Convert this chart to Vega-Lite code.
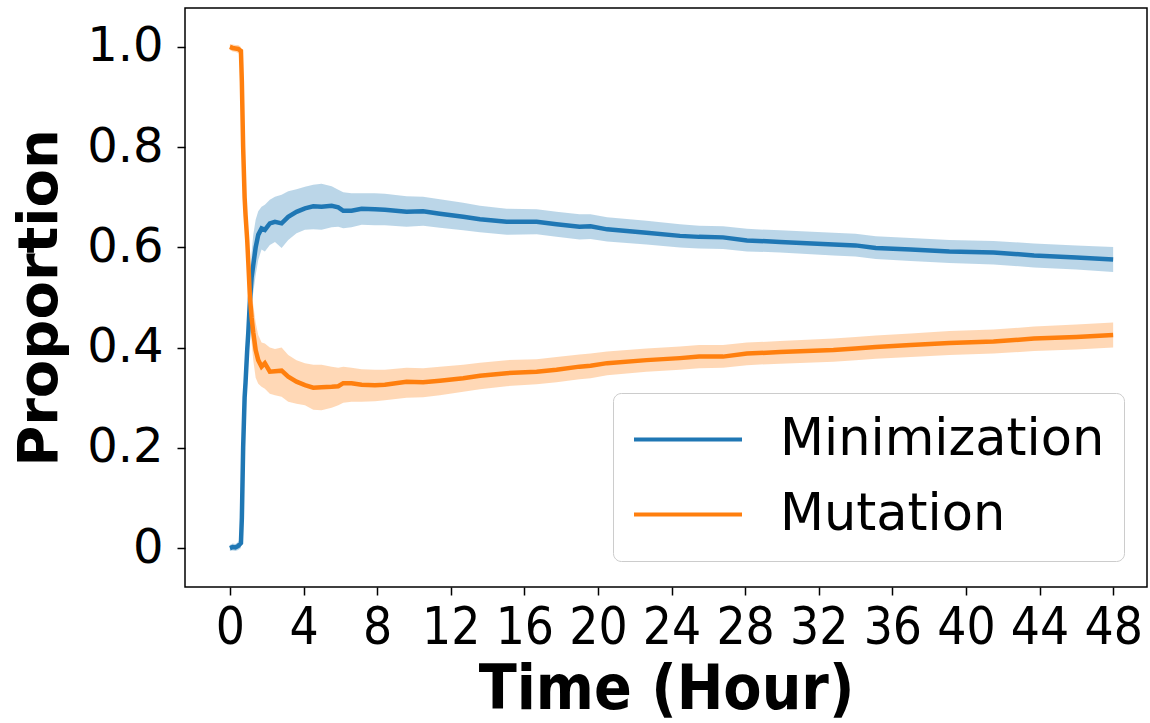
{
  "$schema": "https://vega.github.io/schema/vega-lite/v6.json",
  "width": 962,
  "height": 579,
  "autosize": {"type": "none"},
  "padding": {"left": 185, "top": 8, "right": 3, "bottom": 136},
  "background": "white",
  "config": {
    "view": {"stroke": "black", "strokeWidth": 1.5},
    "axis": {"grid": false, "domain": false, "tickColor": "black", "tickWidth": 1.5, "tickSize": 8, "labelColor": "black", "titleColor": "black"}
  },
  "data": {"values": [
    {"s":"Minimization","t":0,"v":0.000,"lo":-0.006,"hi":0.006},
    {"s":"Minimization","t":0.15,"v":0.002,"lo":-0.005,"hi":0.009},
    {"s":"Minimization","t":0.3,"v":0.001,"lo":-0.006,"hi":0.008},
    {"s":"Minimization","t":0.45,"v":0.004,"lo":-0.004,"hi":0.012},
    {"s":"Minimization","t":0.6,"v":0.010,"lo":0.0,"hi":0.02},
    {"s":"Minimization","t":0.65,"v":0.06,"lo":0.04,"hi":0.08},
    {"s":"Minimization","t":0.72,"v":0.20,"lo":0.17,"hi":0.23},
    {"s":"Minimization","t":0.8,"v":0.30,"lo":0.27,"hi":0.33},
    {"s":"Minimization","t":0.85,"v":0.33,"lo":0.30,"hi":0.36},
    {"s":"Minimization","t":0.94,"v":0.395,"lo":0.36,"hi":0.43},
    {"s":"Minimization","t":1.0,"v":0.43,"lo":0.39,"hi":0.47},
    {"s":"Minimization","t":1.09,"v":0.495,"lo":0.45,"hi":0.54},
    {"s":"Minimization","t":1.18,"v":0.54,"lo":0.49,"hi":0.59},
    {"s":"Minimization","t":1.27,"v":0.565,"lo":0.51,"hi":0.625},
    {"s":"Minimization","t":1.4,"v":0.600,"lo":0.545,"hi":0.655},
    {"s":"Minimization","t":1.54,"v":0.625,"lo":0.575,"hi":0.672},
    {"s":"Minimization","t":1.72,"v":0.638,"lo":0.596,"hi":0.681},
    {"s":"Minimization","t":1.9,"v":0.635,"lo":0.592,"hi":0.685},
    {"s":"Minimization","t":2.17,"v":0.648,"lo":0.605,"hi":0.695},
    {"s":"Minimization","t":2.45,"v":0.651,"lo":0.611,"hi":0.701},
    {"s":"Minimization","t":2.81,"v":0.648,"lo":0.599,"hi":0.705},
    {"s":"Minimization","t":3.17,"v":0.661,"lo":0.615,"hi":0.712},
    {"s":"Minimization","t":3.62,"v":0.671,"lo":0.628,"hi":0.716},
    {"s":"Minimization","t":4.08,"v":0.678,"lo":0.635,"hi":0.721},
    {"s":"Minimization","t":4.53,"v":0.682,"lo":0.636,"hi":0.725},
    {"s":"Minimization","t":4.98,"v":0.681,"lo":0.635,"hi":0.727},
    {"s":"Minimization","t":5.53,"v":0.683,"lo":0.640,"hi":0.722},
    {"s":"Minimization","t":5.89,"v":0.680,"lo":0.641,"hi":0.715},
    {"s":"Minimization","t":6.16,"v":0.673,"lo":0.638,"hi":0.710},
    {"s":"Minimization","t":6.61,"v":0.673,"lo":0.640,"hi":0.708},
    {"s":"Minimization","t":7.16,"v":0.677,"lo":0.645,"hi":0.708},
    {"s":"Minimization","t":7.88,"v":0.676,"lo":0.644,"hi":0.708},
    {"s":"Minimization","t":8.42,"v":0.675,"lo":0.644,"hi":0.707},
    {"s":"Minimization","t":9.6,"v":0.671,"lo":0.641,"hi":0.702},
    {"s":"Minimization","t":10.5,"v":0.672,"lo":0.643,"hi":0.701},
    {"s":"Minimization","t":11.41,"v":0.667,"lo":0.639,"hi":0.696},
    {"s":"Minimization","t":12.68,"v":0.661,"lo":0.634,"hi":0.689},
    {"s":"Minimization","t":13.59,"v":0.656,"lo":0.630,"hi":0.683},
    {"s":"Minimization","t":15.04,"v":0.651,"lo":0.625,"hi":0.677},
    {"s":"Minimization","t":16.67,"v":0.651,"lo":0.626,"hi":0.676},
    {"s":"Minimization","t":17.75,"v":0.646,"lo":0.621,"hi":0.671},
    {"s":"Minimization","t":19.0,"v":0.641,"lo":0.616,"hi":0.666},
    {"s":"Minimization","t":19.6,"v":0.642,"lo":0.617,"hi":0.666},
    {"s":"Minimization","t":20.5,"v":0.636,"lo":0.612,"hi":0.660},
    {"s":"Minimization","t":22.64,"v":0.629,"lo":0.606,"hi":0.653},
    {"s":"Minimization","t":24.46,"v":0.623,"lo":0.600,"hi":0.646},
    {"s":"Minimization","t":25.5,"v":0.621,"lo":0.598,"hi":0.643},
    {"s":"Minimization","t":26.8,"v":0.620,"lo":0.597,"hi":0.642},
    {"s":"Minimization","t":28.1,"v":0.614,"lo":0.592,"hi":0.637},
    {"s":"Minimization","t":29.9,"v":0.611,"lo":0.590,"hi":0.634},
    {"s":"Minimization","t":32.8,"v":0.606,"lo":0.584,"hi":0.629},
    {"s":"Minimization","t":34.0,"v":0.604,"lo":0.582,"hi":0.627},
    {"s":"Minimization","t":35.1,"v":0.599,"lo":0.577,"hi":0.622},
    {"s":"Minimization","t":37.0,"v":0.596,"lo":0.573,"hi":0.619},
    {"s":"Minimization","t":39.1,"v":0.592,"lo":0.569,"hi":0.615},
    {"s":"Minimization","t":41.5,"v":0.590,"lo":0.566,"hi":0.613},
    {"s":"Minimization","t":43.7,"v":0.584,"lo":0.560,"hi":0.608},
    {"s":"Minimization","t":46.0,"v":0.580,"lo":0.556,"hi":0.604},
    {"s":"Minimization","t":48.0,"v":0.576,"lo":0.551,"hi":0.601},
    {"s":"Mutation","t":0,"v":1.000,"lo":0.994,"hi":1.006},
    {"s":"Mutation","t":0.15,"v":0.998,"lo":0.991,"hi":1.005},
    {"s":"Mutation","t":0.3,"v":0.997,"lo":0.990,"hi":1.004},
    {"s":"Mutation","t":0.45,"v":0.996,"lo":0.988,"hi":1.004},
    {"s":"Mutation","t":0.6,"v":0.992,"lo":0.982,"hi":1.0},
    {"s":"Mutation","t":0.65,"v":0.93,"lo":0.91,"hi":0.95},
    {"s":"Mutation","t":0.72,"v":0.80,"lo":0.77,"hi":0.83},
    {"s":"Mutation","t":0.8,"v":0.70,"lo":0.67,"hi":0.73},
    {"s":"Mutation","t":0.85,"v":0.665,"lo":0.635,"hi":0.695},
    {"s":"Mutation","t":0.94,"v":0.615,"lo":0.58,"hi":0.65},
    {"s":"Mutation","t":1.0,"v":0.57,"lo":0.53,"hi":0.61},
    {"s":"Mutation","t":1.09,"v":0.50,"lo":0.455,"hi":0.545},
    {"s":"Mutation","t":1.18,"v":0.46,"lo":0.41,"hi":0.51},
    {"s":"Mutation","t":1.27,"v":0.43,"lo":0.375,"hi":0.485},
    {"s":"Mutation","t":1.4,"v":0.395,"lo":0.34,"hi":0.45},
    {"s":"Mutation","t":1.54,"v":0.375,"lo":0.328,"hi":0.425},
    {"s":"Mutation","t":1.72,"v":0.362,"lo":0.322,"hi":0.41},
    {"s":"Mutation","t":1.9,"v":0.369,"lo":0.318,"hi":0.408},
    {"s":"Mutation","t":2.17,"v":0.352,"lo":0.308,"hi":0.400},
    {"s":"Mutation","t":2.45,"v":0.353,"lo":0.305,"hi":0.397},
    {"s":"Mutation","t":2.81,"v":0.354,"lo":0.302,"hi":0.400},
    {"s":"Mutation","t":3.17,"v":0.342,"lo":0.292,"hi":0.385},
    {"s":"Mutation","t":3.62,"v":0.332,"lo":0.288,"hi":0.375},
    {"s":"Mutation","t":4.08,"v":0.325,"lo":0.285,"hi":0.369},
    {"s":"Mutation","t":4.53,"v":0.320,"lo":0.276,"hi":0.366},
    {"s":"Mutation","t":4.98,"v":0.321,"lo":0.275,"hi":0.366},
    {"s":"Mutation","t":5.53,"v":0.322,"lo":0.280,"hi":0.362},
    {"s":"Mutation","t":5.89,"v":0.323,"lo":0.285,"hi":0.360},
    {"s":"Mutation","t":6.16,"v":0.329,"lo":0.290,"hi":0.362},
    {"s":"Mutation","t":6.61,"v":0.329,"lo":0.292,"hi":0.360},
    {"s":"Mutation","t":7.16,"v":0.326,"lo":0.292,"hi":0.357},
    {"s":"Mutation","t":7.88,"v":0.325,"lo":0.293,"hi":0.356},
    {"s":"Mutation","t":8.42,"v":0.326,"lo":0.295,"hi":0.356},
    {"s":"Mutation","t":9.6,"v":0.332,"lo":0.300,"hi":0.360},
    {"s":"Mutation","t":10.5,"v":0.331,"lo":0.301,"hi":0.359},
    {"s":"Mutation","t":11.41,"v":0.334,"lo":0.305,"hi":0.362},
    {"s":"Mutation","t":12.68,"v":0.339,"lo":0.312,"hi":0.366},
    {"s":"Mutation","t":13.59,"v":0.344,"lo":0.317,"hi":0.370},
    {"s":"Mutation","t":15.04,"v":0.349,"lo":0.323,"hi":0.375},
    {"s":"Mutation","t":16.67,"v":0.352,"lo":0.327,"hi":0.377},
    {"s":"Mutation","t":17.75,"v":0.356,"lo":0.331,"hi":0.381},
    {"s":"Mutation","t":19.0,"v":0.362,"lo":0.337,"hi":0.386},
    {"s":"Mutation","t":19.6,"v":0.364,"lo":0.339,"hi":0.388},
    {"s":"Mutation","t":20.5,"v":0.369,"lo":0.345,"hi":0.392},
    {"s":"Mutation","t":22.64,"v":0.375,"lo":0.352,"hi":0.398},
    {"s":"Mutation","t":24.46,"v":0.379,"lo":0.356,"hi":0.402},
    {"s":"Mutation","t":25.5,"v":0.382,"lo":0.359,"hi":0.405},
    {"s":"Mutation","t":26.8,"v":0.382,"lo":0.360,"hi":0.405},
    {"s":"Mutation","t":28.1,"v":0.388,"lo":0.365,"hi":0.410},
    {"s":"Mutation","t":29.9,"v":0.391,"lo":0.368,"hi":0.413},
    {"s":"Mutation","t":32.8,"v":0.395,"lo":0.372,"hi":0.418},
    {"s":"Mutation","t":34.0,"v":0.398,"lo":0.375,"hi":0.421},
    {"s":"Mutation","t":35.1,"v":0.401,"lo":0.378,"hi":0.424},
    {"s":"Mutation","t":37.0,"v":0.405,"lo":0.381,"hi":0.428},
    {"s":"Mutation","t":39.1,"v":0.409,"lo":0.385,"hi":0.433},
    {"s":"Mutation","t":41.5,"v":0.412,"lo":0.388,"hi":0.436},
    {"s":"Mutation","t":43.7,"v":0.418,"lo":0.393,"hi":0.442},
    {"s":"Mutation","t":46.0,"v":0.421,"lo":0.396,"hi":0.446},
    {"s":"Mutation","t":48.0,"v":0.425,"lo":0.400,"hi":0.450}
  ]},
  "encoding": {
    "x": {"field": "t", "type": "quantitative",
      "scale": {"domain": [-2.44, 49.84], "nice": false, "zero": false},
      "axis": {"values": [0,4,8,12,16,20,24,28,32,36,40,44,48], "title": "Time (Hour)",
        "labelFont": "DejaVu Sans Condensed", "labelFontSize": 51, "labelPadding": 8,
        "titleFont": "DejaVu Sans Condensed", "titleFontWeight": "bold", "titleFontSize": 62, "titlePadding": 6}}
  },
  "layer": [
    {
      "transform": [{"filter": "datum.s === 'Minimization'"}],
      "mark": {"type": "area", "color": "#1f77b4", "fillOpacity": 0.3},
      "encoding": {
        "y": {"field": "lo", "type": "quantitative"},
        "y2": {"field": "hi"}
      }
    },
    {
      "transform": [{"filter": "datum.s === 'Mutation'"}],
      "mark": {"type": "area", "color": "#ff7f0e", "fillOpacity": 0.3},
      "encoding": {
        "y": {"field": "lo", "type": "quantitative"},
        "y2": {"field": "hi"}
      }
    },
    {
      "mark": {"type": "line", "strokeWidth": 4.5},
      "encoding": {
        "y": {"field": "v", "type": "quantitative",
          "scale": {"domain": [-0.0778, 1.0778], "nice": false, "zero": false},
          "axis": {"values": [0, 0.2, 0.4, 0.6, 0.8, 1.0], "title": "Proportion",
            "labelExpr": "datum.value === 0 ? '0' : format(datum.value, '.1f')",
            "labelFont": "DejaVu Sans", "labelFontSize": 48, "labelPadding": 14,
            "titleFont": "DejaVu Sans", "titleFontWeight": "bold", "titleFontSize": 56, "titlePadding": 18}},
        "color": {"field": "s", "type": "nominal",
          "scale": {"domain": ["Minimization", "Mutation"], "range": ["#1f77b4", "#ff7f0e"]},
          "legend": {"title": null, "orient": "none", "legendX": 428, "legendY": 385,
            "fillColor": "white", "strokeColor": "#cccccc", "cornerRadius": 8, "padding": 19,
            "symbolType": "stroke", "symbolSize": 11664, "symbolStrokeWidth": 4,
            "labelFont": "DejaVu Sans", "labelFontSize": 51, "labelColor": "black", "labelOffset": 36,
            "labelLimit": 500, "clipHeight": 55, "rowPadding": 20}}
      }
    }
  ]
}
